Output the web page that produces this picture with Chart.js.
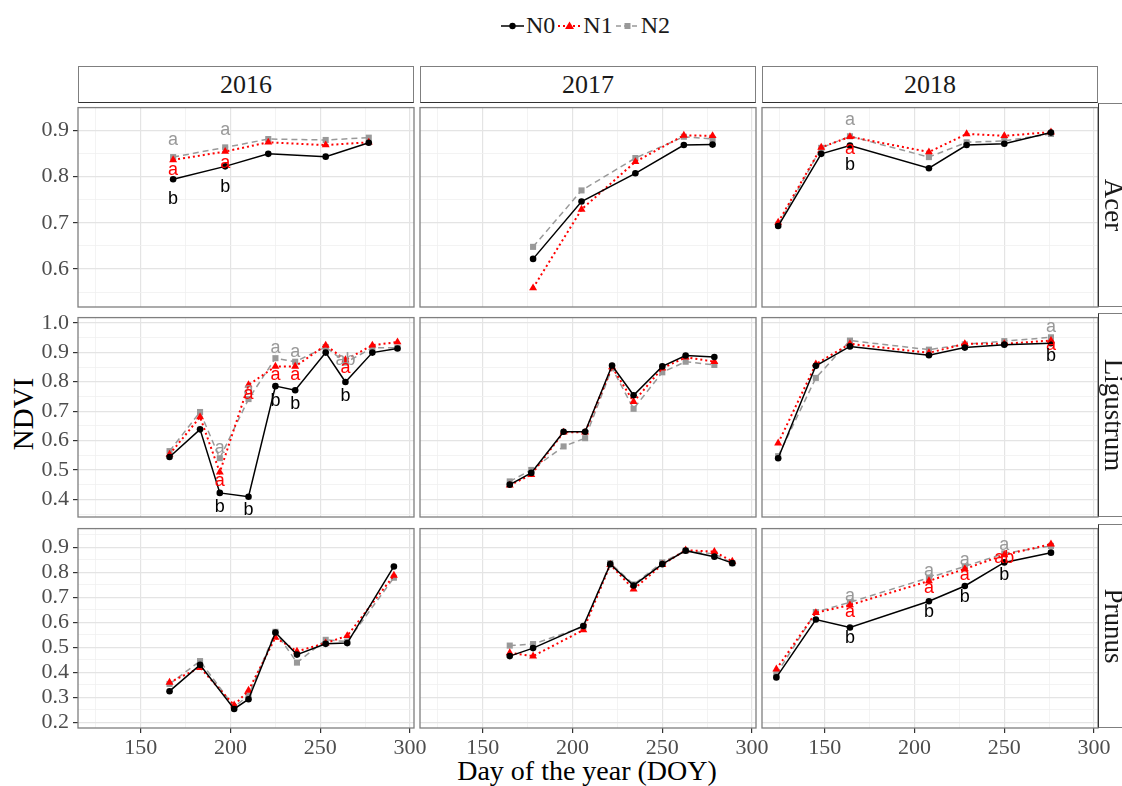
<!DOCTYPE html>
<html>
<head>
<meta charset="utf-8">
<script src="https://cdn.jsdelivr.net/npm/chart.js@4/dist/chart.umd.min.js"></script>
<style>
  html, body { margin: 0; padding: 0; background: #fff; overflow: hidden; }
  #page { position: relative; width: 1122px; height: 786px; font-family: "Liberation Serif", serif; }
  canvas { position: absolute; }
  .strip-top { position: absolute; box-sizing: border-box; height: 37px; border: 1px solid #7f7f7f; border-bottom: 1.5px solid #333;
    text-align: center; font-size: 26px; line-height: 36px; color: #1a1a1a; background: #fff; }
  .strip-right { position: absolute; box-sizing: border-box; width: 30px; border: 1px solid #7f7f7f; border-left: 1.5px solid #333; background: #fff; }
  .strip-right span { position: absolute; left: 50%; top: 50%; transform: translate(-50%, -50%) rotate(90deg);
    font-size: 27px; color: #1a1a1a; white-space: nowrap; }
  .legend { position: absolute; top: 12px; left: 501px; display: flex; align-items: center; font-size: 24px; color: #1a1a1a; }
  .legend span { margin: 0 3px 0 2px; }
  .title { position: absolute; color: #000; white-space: nowrap; text-align: center; }
</style>
</head>
<body>
<div id="page">
  <div class="legend">
    <svg width="23" height="20"><line x1="0" y1="10" x2="23" y2="10" stroke="#000" stroke-width="1.5"/><circle cx="11.5" cy="10" r="3.2" fill="#000"/></svg><span>N0</span>
    <svg width="23" height="20"><line x1="0" y1="10" x2="23" y2="10" stroke="#f00" stroke-width="2" stroke-dasharray="2,3"/><polygon points="11.5,5.5 16,13 7,13" fill="#f00"/></svg><span>N1</span>
    <svg width="23" height="20"><line x1="0" y1="10" x2="23" y2="10" stroke="#999" stroke-width="1.5" stroke-dasharray="5,3"/><rect x="8.5" y="7" width="6" height="6" fill="#999"/></svg><span>N2</span>
  </div>
  <div class="title" style="left:387px; top:754px; width:400px; font-size:28px; line-height:34px;">Day of the year (DOY)</div>
  <div class="title" style="left:-77px; top:397px; width:200px; font-size:29px; line-height:34px; transform: rotate(-90deg);">NDVI</div>
</div>
<script>
// categories
const years = ['2016', '2017', '2018'];
const species = ['Acer', 'Ligustrum', 'Prunus'];
const seriesNames = ['N0', 'N1', 'N2'];

// tick labels
const xTicks = [125, 150, 175, 200, 225, 250, 275, 300];
const yTicksAcer = [0.55, 0.6, 0.65, 0.7, 0.75, 0.8, 0.85, 0.9];
const yTicksLig = [0.35, 0.4, 0.45, 0.5, 0.55, 0.6, 0.65, 0.7, 0.75, 0.8, 0.85, 0.9, 0.95, 1.0];
const yTicksPru = [0.2, 0.25, 0.3, 0.35, 0.4, 0.45, 0.5, 0.55, 0.6, 0.65, 0.7, 0.75, 0.8, 0.85, 0.9, 0.95];

// Acer
const acer16Doy = [168, 197, 221, 253, 277];
const acer16N0 = [0.794, 0.822, 0.849, 0.843, 0.873];
const acer16N1 = [0.836, 0.854, 0.874, 0.868, 0.874];
const acer16N2 = [0.842, 0.863, 0.881, 0.879, 0.884];
const acer17Doy = [178, 205, 235, 262, 278];
const acer17N0 = [0.622, 0.746, 0.807, 0.868, 0.869];
const acer17N1 = [0.559, 0.729, 0.832, 0.889, 0.888];
const acer17N2 = [0.648, 0.770, 0.840, 0.886, 0.881];
const acer18Doy = [124, 148, 164, 208, 229, 250, 276];
const acer18N0 = [0.693, 0.849, 0.867, 0.818, 0.868, 0.871, 0.895];
const acer18N1 = [0.701, 0.863, 0.886, 0.853, 0.892, 0.888, 0.896];
const acer18N2 = [0.696, 0.862, 0.887, 0.842, 0.874, 0.877, 0.892];

// Ligustrum
const lig16Doy = [166, 183, 194, 210, 225, 236, 253, 264, 279, 293];
const lig16N0 = [0.544, 0.638, 0.422, 0.409, 0.785, 0.771, 0.899, 0.799, 0.899, 0.913];
const lig16N1 = [0.553, 0.680, 0.492, 0.789, 0.852, 0.852, 0.924, 0.874, 0.924, 0.935];
const lig16N2 = [0.564, 0.697, 0.540, 0.741, 0.880, 0.868, 0.918, 0.865, 0.915, 0.916];
const lig17Doy = [165, 177, 195, 207, 222, 234, 250, 263, 279];
const lig17N0 = [0.450, 0.490, 0.630, 0.630, 0.855, 0.754, 0.852, 0.889, 0.884];
const lig17N1 = [0.448, 0.484, 0.628, 0.628, 0.850, 0.732, 0.846, 0.883, 0.868];
const lig17N2 = [0.461, 0.500, 0.580, 0.608, 0.846, 0.708, 0.832, 0.868, 0.857];
const lig18Doy = [124, 145, 164, 208, 228, 250, 276];
const lig18N0 = [0.540, 0.854, 0.920, 0.890, 0.916, 0.926, 0.931];
const lig18N1 = [0.591, 0.860, 0.929, 0.898, 0.929, 0.929, 0.940];
const lig18N2 = [0.547, 0.813, 0.940, 0.909, 0.927, 0.938, 0.951];

// Prunus
const pru16Doy = [166, 183, 202, 210, 225, 237, 253, 265, 291];
const pru16N0 = [0.325, 0.430, 0.254, 0.293, 0.559, 0.471, 0.514, 0.517, 0.823];
const pru16N1 = [0.360, 0.419, 0.269, 0.328, 0.539, 0.484, 0.517, 0.546, 0.787];
const pru16N2 = [0.354, 0.445, 0.262, 0.308, 0.562, 0.439, 0.530, 0.523, 0.778];
const pru17Doy = [165, 178, 206, 221, 234, 250, 263, 279, 289];
const pru17N0 = [0.465, 0.497, 0.585, 0.832, 0.747, 0.832, 0.886, 0.862, 0.836];
const pru17N1 = [0.478, 0.465, 0.569, 0.830, 0.732, 0.830, 0.888, 0.882, 0.843];
const pru17N2 = [0.507, 0.513, 0.582, 0.836, 0.751, 0.839, 0.886, 0.873, 0.836];
const pru18Doy = [123, 145, 164, 208, 228, 250, 276];
const pru18N0 = [0.380, 0.611, 0.579, 0.684, 0.745, 0.839, 0.878];
const pru18N1 = [0.413, 0.638, 0.669, 0.765, 0.813, 0.869, 0.912];
const pru18N2 = [0.393, 0.641, 0.680, 0.778, 0.823, 0.875, 0.905];

// significance letters: [doy, y, text, series]
const acer16Letters = [[168, 0.879, 'a', 2], [168, 0.814, 'a', 1], [168, 0.751, 'b', 0],
  [197, 0.900, 'a', 2], [197, 0.830, 'a', 1], [197, 0.777, 'b', 0]];
const acer18Letters = [[164, 0.923, 'a', 2], [164, 0.860, 'a', 1], [164, 0.825, 'b', 0]];
const lig16Letters = [[194, 0.573, 'a', 2], [194, 0.464, 'a', 1], [194, 0.375, 'b', 0],
  [210, 0.772, 'a', 2], [210, 0.757, 'a', 1], [210, 0.362, 'b', 0],
  [225, 0.913, 'a', 2], [225, 0.824, 'a', 1], [225, 0.736, 'b', 0],
  [236, 0.902, 'a', 2], [236, 0.824, 'a', 1], [236, 0.724, 'b', 0],
  [264, 0.874, 'ab', 2], [264, 0.846, 'a', 1], [264, 0.752, 'b', 0]];
const lig18Letters = [[276, 0.985, 'a', 2], [276, 0.924, 'a', 1], [276, 0.887, 'b', 0]];
const pru18Letters = [[164, 0.706, 'a', 2], [164, 0.641, 'a', 1], [164, 0.536, 'b', 0],
  [208, 0.804, 'a', 2], [208, 0.738, 'a', 1], [208, 0.641, 'b', 0],
  [228, 0.849, 'a', 2], [228, 0.790, 'a', 1], [228, 0.699, 'b', 0],
  [250, 0.908, 'a', 2], [250, 0.856, 'ab', 1], [250, 0.790, 'b', 0]];

// facet layout
const colLeft = [78, 420, 762];
const rowTop = [103, 313, 524];
const panelW = 336, panelH = 204;
const axisW = 78, axisH = 50, padR = 30;
const xRange = [115, 302.2];
const yRanges = [[0.518, 0.949], [0.340, 1.018], [0.178, 0.974]];
const yTickSets = [yTicksAcer, yTicksLig, yTicksPru];

const lineColors = ['#000000', '#ff0000', '#999999'];
const lineStyles = [
  { borderWidth: 1.5, borderDash: [], pointStyle: 'circle', pointRadius: 3.3 },
  { borderWidth: 2, borderDash: [2, 3], pointStyle: 'triangle', pointRadius: 4.6 },
  { borderWidth: 1.5, borderDash: [6, 4], pointStyle: 'rect', pointRadius: 4.3 }
];

const panels = [
  { row: 0, col: 0, doy: acer16Doy, vals: [acer16N0, acer16N1, acer16N2], letters: acer16Letters },
  { row: 0, col: 1, doy: acer17Doy, vals: [acer17N0, acer17N1, acer17N2], letters: [] },
  { row: 0, col: 2, doy: acer18Doy, vals: [acer18N0, acer18N1, acer18N2], letters: acer18Letters },
  { row: 1, col: 0, doy: lig16Doy, vals: [lig16N0, lig16N1, lig16N2], letters: lig16Letters },
  { row: 1, col: 1, doy: lig17Doy, vals: [lig17N0, lig17N1, lig17N2], letters: [] },
  { row: 1, col: 2, doy: lig18Doy, vals: [lig18N0, lig18N1, lig18N2], letters: lig18Letters },
  { row: 2, col: 0, doy: pru16Doy, vals: [pru16N0, pru16N1, pru16N2], letters: [] },
  { row: 2, col: 1, doy: pru17Doy, vals: [pru17N0, pru17N1, pru17N2], letters: [] },
  { row: 2, col: 2, doy: pru18Doy, vals: [pru18N0, pru18N1, pru18N2], letters: pru18Letters }
];

const isMajorX = v => v % 50 === 0;
const isMajorY = v => Math.abs(v * 10 - Math.round(v * 10)) < 1e-6;

// panel border on top of everything
const panelBorder = {
  id: 'panelBorder',
  afterDraw(chart) {
    const a = chart.chartArea, ctx = chart.ctx;
    ctx.save();
    ctx.strokeStyle = '#7f7f7f';
    ctx.lineWidth = 1.3;
    ctx.strokeRect(a.left, a.top, a.right - a.left, a.bottom - a.top);
    ctx.restore();
  }
};

// letters drawn at data coordinates
const letterLabels = {
  id: 'letterLabels',
  afterDatasetsDraw(chart, args, opts) {
    const ctx = chart.ctx;
    ctx.save();
    ctx.font = '18px "Liberation Sans", Arial, sans-serif';
    ctx.textAlign = 'center';
    ctx.textBaseline = 'middle';
    opts.items.forEach(([x, y, t, s]) => {
      ctx.fillStyle = lineColors[s];
      ctx.fillText(t, chart.scales.x.getPixelForValue(x), chart.scales.y.getPixelForValue(y));
    });
    ctx.restore();
  }
};

const page = document.getElementById('page');

function fixSize(prop, size) {
  return s => {
    s[prop] = size;
    s.paddingLeft = s.paddingRight = s.paddingTop = s.paddingBottom = 0;
  };
}

panels.forEach(p => {
  const cv = document.createElement('canvas');
  cv.width = axisW + panelW + padR;
  cv.height = panelH + axisH;
  cv.style.left = (colLeft[p.col] - axisW) + 'px';
  cv.style.top = rowTop[p.row] + 'px';
  page.appendChild(cv);

  const showX = p.row === 2;
  const showY = p.col === 0;
  const yTicks = yTickSets[p.row];

  new Chart(cv.getContext('2d'), {
    type: 'line',
    data: {
      datasets: seriesNames.map((name, s) => ({
        label: name,
        data: p.doy.map((d, i) => ({ x: d, y: p.vals[s][i] })),
        borderColor: lineColors[s],
        backgroundColor: lineColors[s],
        pointBackgroundColor: lineColors[s],
        pointBorderWidth: 0,
        borderWidth: lineStyles[s].borderWidth,
        borderDash: lineStyles[s].borderDash,
        pointStyle: lineStyles[s].pointStyle,
        pointRadius: lineStyles[s].pointRadius,
        tension: 0,
        clip: 6
      }))
    },
    options: {
      responsive: false,
      animation: false,
      devicePixelRatio: 1,
      layout: { padding: { left: 0, right: padR, top: 0, bottom: 0 } },
      plugins: {
        legend: { display: false },
        tooltip: { enabled: false },
        letterLabels: { items: p.letters }
      },
      scales: {
        x: {
          type: 'linear',
          min: xRange[0],
          max: xRange[1],
          afterBuildTicks: s => { s.ticks = xTicks.map(v => ({ value: v })); },
          afterFit: fixSize('height', axisH),
          border: { display: false },
          grid: {
            drawTicks: showX,
            tickLength: 5,
            color: c => isMajorX(c.tick.value) ? '#e4e4e4' : '#f0f0f0',
            lineWidth: c => isMajorX(c.tick.value) ? 1.2 : 0.8,
            tickColor: c => isMajorX(c.tick.value) ? '#333333' : 'rgba(0,0,0,0)',
            tickWidth: 1.2
          },
          ticks: {
            display: showX,
            autoSkip: false,
            maxRotation: 0,
            padding: 2,
            color: '#4d4d4d',
            font: { family: '"Liberation Serif", serif', size: 22 },
            callback: v => isMajorX(v) ? String(v) : ''
          }
        },
        y: {
          type: 'linear',
          min: yRanges[p.row][0],
          max: yRanges[p.row][1],
          afterBuildTicks: s => { s.ticks = yTicks.map(v => ({ value: v })); },
          afterFit: fixSize('width', axisW),
          border: { display: false },
          grid: {
            drawTicks: showY,
            tickLength: 5,
            color: c => isMajorY(c.tick.value) ? '#e4e4e4' : '#f0f0f0',
            lineWidth: c => isMajorY(c.tick.value) ? 1.2 : 0.8,
            tickColor: c => isMajorY(c.tick.value) ? '#333333' : 'rgba(0,0,0,0)',
            tickWidth: 1.2
          },
          ticks: {
            display: showY,
            autoSkip: false,
            padding: 4,
            color: '#4d4d4d',
            font: { family: '"Liberation Serif", serif', size: 22 },
            callback: v => isMajorY(v) ? v.toFixed(1) : ''
          }
        }
      }
    },
    plugins: [letterLabels, panelBorder]
  });
});

// facet strips
years.forEach((y, c) => {
  const d = document.createElement('div');
  d.className = 'strip-top';
  d.style.left = colLeft[c] + 'px';
  d.style.top = (rowTop[0] - 37) + 'px';
  d.style.width = panelW + 'px';
  d.textContent = y;
  page.appendChild(d);
});
species.forEach((sp, r) => {
  const d = document.createElement('div');
  d.className = 'strip-right';
  d.style.left = (colLeft[2] + panelW) + 'px';
  d.style.top = rowTop[r] + 'px';
  d.style.height = panelH + 'px';
  const t = document.createElement('span');
  t.textContent = sp;
  d.appendChild(t);
  page.appendChild(d);
});
</script>
</body>
</html>
